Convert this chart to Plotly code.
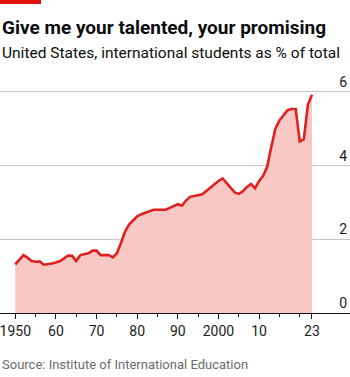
import plotly.graph_objects as go

years = list(range(1950, 2024))
share = [
    1.32, 1.45, 1.57, 1.50, 1.41, 1.39, 1.40, 1.31, 1.32, 1.34,
    1.37, 1.41, 1.48, 1.56, 1.55, 1.41, 1.57, 1.59, 1.62, 1.69,
    1.69, 1.57, 1.58, 1.57, 1.51, 1.62, 1.90, 2.20, 2.40, 2.52,
    2.62, 2.68, 2.72, 2.74, 2.80, 2.80, 2.80, 2.80, 2.85, 2.90,
    2.95, 2.91, 3.05, 3.15, 3.17, 3.18, 3.22, 3.31, 3.40, 3.50,
    3.58, 3.65, 3.52, 3.38, 3.27, 3.23, 3.30, 3.42, 3.50, 3.38,
    3.58, 3.72, 3.97, 4.51, 5.00, 5.22, 5.35, 5.50, 5.53, 5.53,
    4.65, 4.71, 5.65, 5.92,
]
major_ticks = [1950, 1960, 1970, 1980, 1990, 2000, 2010, 2023]
major_labels = ["1950", "60", "70", "80", "90", "2000", "10", "23"]
minor_ticks = [1955, 1965, 1975, 1985, 1995, 2005, 2015, 2020]
y_ticks = [0, 2, 4, 6]

W, H = 350, 377
T, B = 70, 64
ph = H - T - B
def py(px):
    return (H - B - px) / ph

FONT = "Roboto"

fig = go.Figure()
fig.add_trace(go.Scatter(
    x=years, y=share, mode="lines",
    line=dict(color="#e0201f", width=2.6),
    fill="tozeroy", fillcolor="#f8c8c4",
    hoverinfo="skip",
))

fig.update_layout(
    width=W, height=H,
    margin=dict(l=0, r=0, t=T, b=B),
    paper_bgcolor="white", plot_bgcolor="white",
    showlegend=False,
    font=dict(family=FONT, color="#1a1a1a"),
    xaxis=dict(
        range=[1946.24, 2032.36],
        tickvals=major_ticks, ticktext=major_labels,
        ticks="outside", ticklen=5, tickwidth=1, tickcolor="#111111",
        showline=True, linecolor="#111111", linewidth=1,
        showgrid=False, zeroline=False,
        ticklabeloverflow="allow",
        tickfont=dict(size=14, color="#1a1a1a", family=FONT),
        minor=dict(tickvals=minor_ticks, ticks="outside", ticklen=3,
                   tickcolor="#111111", tickwidth=1, showgrid=False),
        fixedrange=True,
    ),
    yaxis=dict(
        range=[0, 243/36.88],
        tickvals=y_ticks,
        side="right",
        ticklabelposition="inside top",
        showgrid=True, gridcolor="#c8c8c8", gridwidth=1,
        zeroline=False, showline=False, ticks="",
        tickfont=dict(size=14, color="#1a1a1a", family=FONT),
        fixedrange=True,
    ),
)

fig.add_shape(type="rect", xref="paper", yref="paper",
              x0=0, x1=41/W, y0=py(4), y1=py(0),
              fillcolor="#e3120b", line=dict(width=0))

fig.add_annotation(text="<b>Give me your talented, your promising</b>",
                   xref="paper", yref="paper", x=0, y=py(14),
                   xanchor="left", yanchor="top", showarrow=False,
                   font=dict(size=19, color="#0d0d0d", family=FONT))
fig.add_annotation(text="United States, international students as % of total",
                   xref="paper", yref="paper", x=0, y=py(42),
                   xanchor="left", yanchor="top", showarrow=False,
                   font=dict(size=15.5, color="#0d0d0d", family=FONT))
fig.add_annotation(text="Source: Institute of International Education",
                   xref="paper", yref="paper", x=0, y=py(355),
                   xanchor="left", yanchor="top", showarrow=False,
                   font=dict(size=13, color="#6b6b6b", family=FONT))

fig.write_html("out.html")
